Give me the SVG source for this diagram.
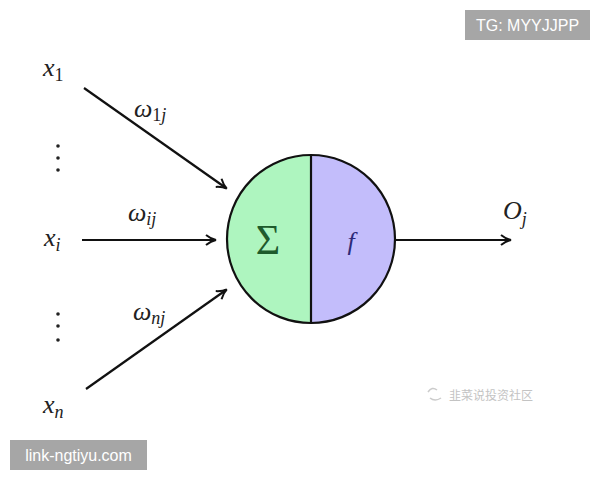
<svg xmlns="http://www.w3.org/2000/svg" width="600" height="480" viewBox="0 0 600 480">
<style>
.m{font-family:"Liberation Serif","DejaVu Serif",serif;font-style:italic;font-size:26px;fill:#222}
.n{font-family:"Liberation Serif",serif;font-style:normal}
.e{stroke:#111;stroke-width:2.2;fill:none}
.tag{font-family:"Liberation Sans",Arial,sans-serif;font-size:16px;fill:#fff}
</style>
<defs>
<marker id="ah" viewBox="0 0 12 12" refX="10" refY="6" markerWidth="12" markerHeight="12" markerUnits="userSpaceOnUse" orient="auto">
<path d="M1,1 Q6,5 11,6 Q6,7 1,11" fill="none" stroke="#111" stroke-width="2"/>
</marker>
</defs>
<rect width="600" height="480" fill="#fff"/>
<g id="connectors">
<line class="e" x1="84" y1="88" x2="226" y2="188" marker-end="url(#ah)"/>
<line class="e" x1="82" y1="240" x2="215" y2="240" marker-end="url(#ah)"/>
<line class="e" x1="86" y1="389" x2="226" y2="290" marker-end="url(#ah)"/>
<line class="e" x1="396" y1="240" x2="510" y2="240" marker-end="url(#ah)"/>
</g>
<g id="neuron">
<path d="M311,155 A84,84 0 0 0 311,323 Z" fill="#aef5bf"/>
<path d="M311,155 A84,84 0 0 1 311,323 Z" fill="#c3bdfb"/>
<circle cx="311" cy="239" r="84" fill="none" stroke="#111" stroke-width="2.2"/>
<line x1="311" y1="155" x2="311" y2="323" stroke="#111" stroke-width="2.2"/>
<text x="268" y="254" text-anchor="middle" font-family="'Liberation Serif','DejaVu Serif',serif" font-size="42" fill="#1e5a2c">Σ</text>
<text x="351" y="250" text-anchor="middle" class="m" style="fill:#2e2a78;font-size:26px">f</text>
</g>
<g id="x1"><text class="m" x="43" y="76">x<tspan class="n" font-size="18" dy="5">1</tspan></text></g>
<g id="dots1" fill="#222"><circle cx="58" cy="146" r="1.8"/><circle cx="58" cy="158" r="1.8"/><circle cx="58" cy="170" r="1.8"/></g>
<g id="xi"><text class="m" x="44" y="246">x<tspan font-size="18" dy="5">i</tspan></text></g>
<g id="dots2" fill="#222"><circle cx="58" cy="314" r="1.8"/><circle cx="58" cy="326" r="1.8"/><circle cx="58" cy="340" r="1.8"/></g>
<g id="xn"><text class="m" x="43" y="413">x<tspan font-size="18" dy="5">n</tspan></text></g>
<g id="w1j"><text class="m" x="134" y="117">ω<tspan font-size="18" dy="4"><tspan class="n">1</tspan>j</tspan></text></g>
<g id="wij"><text class="m" x="128" y="221">ω<tspan font-size="18" dy="4">ij</tspan></text></g>
<g id="wnj"><text class="m" x="133" y="320">ω<tspan font-size="18" dy="4">nj</tspan></text></g>
<g id="oj"><text class="m" x="503" y="219">O<tspan font-size="18" dy="6">j</tspan></text></g>
<g id="watermark" opacity="0.5">
<path d="M428,392 q4,-6 9,-2 M430,398 q5,4 11,0" fill="none" stroke="#999" stroke-width="1.5"/>
<text x="449" y="400" font-family="'Noto Sans CJK SC',sans-serif" font-size="12" fill="#888">韭菜说投资社区</text>
</g>
<g id="tg"><rect x="465" y="10" width="125" height="30" fill="#a6a6a6"/><text class="tag" x="527.5" y="31" text-anchor="middle">TG: MYYJJPP</text></g>
<g id="link"><rect x="10" y="440" width="137" height="30" fill="#a6a6a6"/><text class="tag" x="78.5" y="461" text-anchor="middle">link-ngtiyu.com</text></g>
</svg>
